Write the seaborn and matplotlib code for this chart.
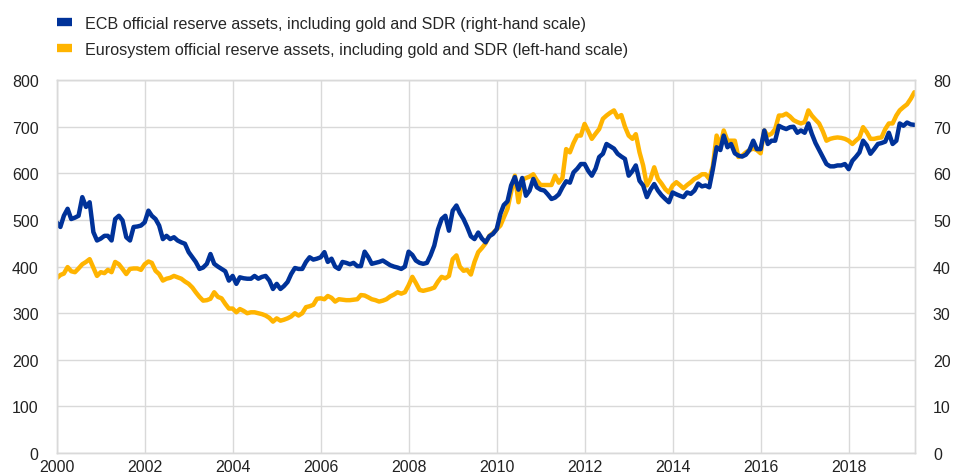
import numpy as np
import pandas as pd
import matplotlib
matplotlib.use("Agg")
import matplotlib.pyplot as plt
import matplotlib.dates as mdates
from matplotlib.lines import Line2D
import seaborn as sns

# monthly data, Jan 2000 - Jul 2019 (EUR billions)
eurosystem = [
    375, 382, 385, 399, 390, 388, 396, 405, 410, 416, 398, 380,  # 2000
    388, 386, 393, 388, 410, 405, 395, 384, 395, 396, 396, 393,  # 2001
    405, 411, 408, 391, 384, 370, 374, 376, 380, 377, 374, 368,  # 2002
    363, 355, 345, 335, 327, 328, 331, 345, 335, 332, 320, 310,  # 2003
    310, 302, 309, 305, 300, 302, 302, 300, 298, 295, 290, 282,  # 2004
    289, 284, 286, 289, 293, 300, 295, 300, 313, 315, 318, 331,  # 2005
    332, 330, 337, 333, 325, 330, 329, 328, 328, 329, 330, 339,  # 2006
    338, 334, 330, 328, 325, 327, 330, 336, 340, 345, 342, 345,  # 2007
    360, 378, 365, 350, 348, 350, 352, 355, 368, 378, 375, 380,  # 2008
    416, 424, 400, 391, 393, 383, 410, 431, 440, 450, 466, 472,  # 2009
    480, 488, 505, 524, 560, 595, 538, 586, 590, 593, 598, 585,  # 2010
    575, 575, 575, 575, 595, 580, 590, 652, 645, 665, 681, 681,  # 2011
    706, 690, 674, 685, 695, 717, 724, 730, 735, 720, 725, 700,  # 2012
    681, 674, 684, 645, 617, 574, 588, 613, 588, 578, 566, 559,  # 2013
    574, 581, 575, 568, 575, 581, 588, 592, 598, 598, 588, 616,  # 2014
    681, 660, 692, 670, 670, 670, 635, 638, 645, 650, 653, 650,  # 2015
    643, 692, 681, 685, 695, 724, 724, 728, 722, 714, 710, 707,  # 2016
    710, 735, 724, 715, 707, 690, 670, 674, 676, 677, 676, 674,  # 2017
    670, 663, 670, 677, 699, 688, 674, 674, 676, 677, 695, 707,  # 2018
    707, 724, 735, 742, 748, 760, 774,                           # 2019
]

ecb = [
    49.5, 48.5, 50.9, 52.4, 50.2, 50.5, 50.9, 54.9, 52.8, 53.8, 47.4, 45.6,  # 2000
    46.0, 46.6, 46.6, 45.6, 50.2, 50.9, 49.9, 46.3, 45.6, 48.5, 48.6, 48.8,  # 2001
    49.5, 52.0, 50.9, 50.2, 48.8, 45.9, 46.6, 45.9, 46.3, 45.6, 45.2, 44.9,  # 2002
    43.1, 42.0, 41.0, 39.5, 39.8, 40.6, 42.7, 40.6, 40.0, 39.5, 39.0, 37.0,  # 2003
    38.0, 36.3, 37.7, 37.5, 37.4, 37.4, 38.0, 37.4, 37.8, 38.0, 37.0, 35.2,  # 2004
    36.3, 35.2, 35.8, 36.7, 38.4, 39.7, 39.5, 39.5, 41.0, 42.0, 41.5, 41.7,  # 2005
    42.0, 43.1, 41.0, 41.7, 40.0, 39.5, 41.0, 40.8, 40.5, 40.8, 40.1, 40.1,  # 2006
    43.2, 42.0, 40.6, 40.8, 41.0, 41.3, 40.8, 40.3, 40.0, 39.8, 39.5, 40.0,  # 2007
    43.2, 42.5, 41.3, 40.8, 40.6, 40.8, 42.4, 44.5, 48.0, 50.2, 50.9, 47.7,  # 2008
    52.0, 53.1, 51.5, 50.2, 48.5, 46.5, 45.9, 47.3, 46.0, 45.2, 46.5, 47.0,  # 2009
    48.0, 51.3, 53.2, 54.0, 57.4, 59.2, 56.5, 59.0, 55.2, 56.3, 58.8, 57.0,  # 2010
    56.5, 56.3, 55.5, 54.5, 54.8, 55.5, 57.0, 58.3, 58.0, 60.2, 61.0, 62.0,  # 2011
    62.0, 60.5, 59.5, 61.0, 63.5, 64.2, 66.3, 65.8, 65.3, 64.2, 63.6, 63.1,  # 2012
    59.5, 60.5, 61.7, 58.4, 57.4, 54.9, 56.5, 57.7, 56.3, 55.3, 54.5, 53.8,  # 2013
    55.9, 55.5, 55.2, 54.9, 55.9, 55.6, 56.3, 57.8, 57.2, 57.4, 57.0, 60.9,  # 2014
    65.6, 65.0, 68.1, 65.6, 66.3, 64.3, 63.8, 63.6, 64.0, 65.0, 67.0, 65.2,  # 2015
    65.2, 69.2, 66.3, 67.0, 67.0, 70.2, 69.8, 69.5, 69.9, 70.0, 68.7, 69.2,  # 2016
    68.7, 70.7, 68.5, 66.5, 65.0, 63.5, 62.0, 61.5, 61.5, 61.7, 61.7, 62.0,  # 2017
    60.9, 62.7, 63.5, 64.5, 67.0, 66.0, 64.2, 65.2, 66.3, 66.5, 66.8, 68.7,  # 2018
    66.3, 67.0, 70.7, 70.2, 70.9, 70.5, 70.4,                                # 2019
]

dates = pd.date_range("2000-01-01", periods=len(eurosystem), freq="MS")
df = pd.DataFrame({"date": dates, "eurosystem": eurosystem, "ecb": ecb})

blue = "#003299"
yellow = "#FFB400"
grid_col = "#d9d9d9"

sns.set_style("whitegrid", {"grid.color": grid_col})
plt.rcParams['font.family'] = ['Liberation Sans', 'DejaVu Sans']

fig = plt.figure(figsize=(9.6, 4.77), dpi=100)
ax = fig.add_axes([0.059, 0.048, 0.894, 0.782])

sns.lineplot(data=df, x="date", y="eurosystem", ax=ax, color=yellow, lw=3.2)
ax2 = ax.twinx()
sns.lineplot(data=df, x="date", y="ecb", ax=ax2, color=blue, lw=3.2)

ax.set_ylim(0, 800)
ax.set_yticks(range(0, 801, 100))
ax2.set_ylim(0, 80)
ax2.set_yticks(range(0, 81, 10))
ax2.grid(False)
ax.set_xlim(pd.Timestamp("2000-01-01"), pd.Timestamp("2019-07-05"))
ax.xaxis.set_major_locator(mdates.YearLocator(2))
ax.xaxis.set_major_formatter(mdates.DateFormatter("%Y"))

for a in (ax, ax2):
    a.set_xlabel("")
    a.set_ylabel("")
    a.tick_params(length=0, labelsize=11.5, colors="#222222", pad=13)
    for s in a.spines.values():
        s.set_color(grid_col)
        s.set_linewidth(1)
ax.tick_params(axis="x", pad=4)
ax.grid(True, color=grid_col, lw=1)

handles = [Line2D([0], [0], color=blue, lw=6, solid_capstyle="butt"),
           Line2D([0], [0], color=yellow, lw=6, solid_capstyle="butt")]
labels = ["ECB official reserve assets, including gold and SDR (right-hand scale)",
          "Eurosystem official reserve assets, including gold and SDR (left-hand scale)"]
fig.legend(handles, labels, loc="upper left", bbox_to_anchor=(0.053, 0.978),
           frameon=False, fontsize=11.6, handlelength=0.9, handletextpad=0.8,
           labelspacing=0.68, borderaxespad=0)

fig.savefig("out.png", dpi=100)
